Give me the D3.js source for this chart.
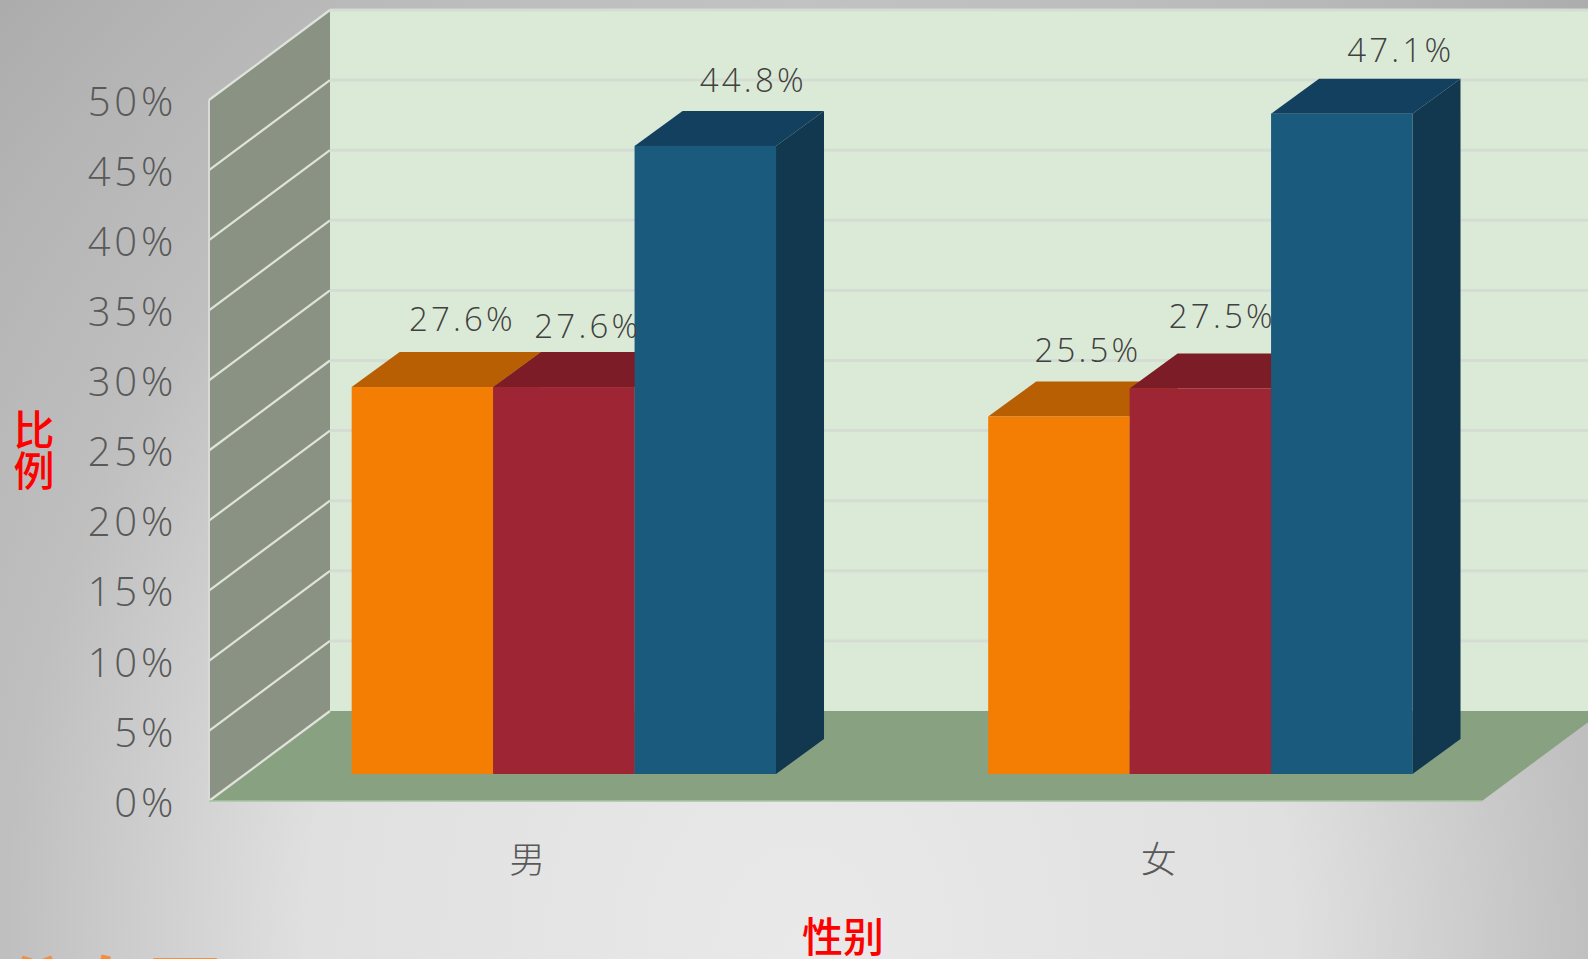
<!DOCTYPE html>
<html>
<head>
    <meta charset="utf-8">
    <title></title>
    <style>
        html, body { margin: 0; padding: 0; background: #ddd; overflow: hidden; }
        svg { display: block; }
        .tick-label { font-family: "Open Sans", sans-serif; font-weight: 300; font-size: 40px; fill: #595959; letter-spacing: 3.8px; }
        .cat-label { font-family: "Noto Sans CJK SC", sans-serif; font-weight: 300; font-size: 36px; fill: #595959; }
        .val-label { font-family: "Open Sans", sans-serif; font-weight: 300; font-size: 33px; fill: #404040; letter-spacing: 3.2px; }
        .axis-title { font-family: "Noto Sans CJK SC", sans-serif; font-weight: 500; font-size: 41px; fill: #ff0000; }
    </style>
</head>
<body>
    <script src="https://cdn.jsdelivr.net/npm/d3@7"></script>
    <script>
        // values
        var categories = ["男", "女"];
        var seriesKeys = ["s1", "s2", "s3"];
        var maleValues = [27.6, 27.6, 44.8];
        var femaleValues = [25.5, 27.5, 47.1];
        var yTicks = [0, 5, 10, 15, 20, 25, 30, 35, 40, 45, 50];

        var xTitle = "性别";
        var yTitle = ["比", "例"];
        var caption = "分布图";

        var frontColors = ["#f47e03", "#9e2534", "#1a5a7c"];
        var topColors = ["#b75f02", "#7b1c27", "#144060"];
        var sideColors = ["#a85702", "#701a24", "#11384f"];

        // hand placed label offsets from the bar's front top centre
        var labelNudge = [[[40, -69], [24, -62], [48, -66]], [[29, -67], [22, -73], [59, -64]]];

        var width = 1588,
            height = 959;

        // oblique projection of the box
        var depthX = 121, depthY = -90;
        var barOffX = 36.6, barOffY = -27;
        var barDepthX = 48, barDepthY = -35;

        var x0 = d3.scaleBand().domain(categories).range([209, 1482]);
        var x1 = d3.scaleBand().domain(seriesKeys).range([0, x0.bandwidth()]).paddingInner(0).paddingOuter(0.75);
        var y = d3.scaleLinear().domain([0, 50]).range([801, 100]);

        var svg = d3.select("body").append("svg")
            .attr("width", width)
            .attr("height", height);

        var grad = svg.append("defs").append("radialGradient")
            .attr("id", "bg")
            .attr("gradientUnits", "userSpaceOnUse")
            .attr("cx", 0).attr("cy", 0).attr("r", 1.3)
            .attr("gradientTransform", "translate(800,950) scale(900,1100)");
        [[0, "#e9e9e9"], [0.42, "#e0e0e0"], [0.68, "#bfbfbf"], [0.85, "#b4b4b4"], [1, "#a8a8a8"]].forEach(function(s) {
            grad.append("stop").attr("offset", s[0]).attr("stop-color", s[1]);
        });

        svg.append("rect").attr("width", width).attr("height", height).attr("fill", "url(#bg)");

        function pts(list) {
            return list.map(function(p) { return p.join(","); }).join(" ");
        }

        var left = x0.range()[0], right = x0.range()[1];
        var y0 = y(0), yMax = y(50);

        // back wall
        svg.append("polygon")
            .attr("points", pts([[left + depthX, yMax + depthY], [width, yMax + depthY], [width, y0 + depthY], [left + depthX, y0 + depthY]]))
            .attr("fill", "#dbead6");
        svg.append("g").selectAll("line")
            .data(yTicks.slice(1))
            .enter().append("line")
            .attr("x1", left + depthX)
            .attr("x2", width)
            .attr("y1", function(d) { return y(d) + depthY; })
            .attr("y2", function(d) { return y(d) + depthY; })
            .attr("stroke", "#d4dcd3")
            .attr("stroke-width", 3);

        // side wall
        svg.append("polygon")
            .attr("points", pts([[left, yMax], [left + depthX, yMax + depthY], [left + depthX, y0 + depthY], [left, y0]]))
            .attr("fill", "#8a9383");

        // floor
        svg.append("polygon")
            .attr("points", pts([[left, y0], [left + depthX, y0 + depthY], [right + depthX, y0 + depthY], [right, y0]]))
            .attr("fill", "#88a281");

        svg.append("g").selectAll("line")
            .data(yTicks)
            .enter().append("line")
            .attr("x1", left)
            .attr("x2", left + depthX)
            .attr("y1", function(d) { return y(d); })
            .attr("y2", function(d) { return y(d) + depthY; })
            .attr("stroke", "#dfe3da")
            .attr("stroke-width", 2.2);
        svg.append("line")
            .attr("x1", left).attr("x2", left)
            .attr("y1", yMax).attr("y2", y0)
            .attr("stroke", "#d9d9d9")
            .attr("stroke-width", 2);
        svg.append("line")
            .attr("x1", left).attr("x2", right)
            .attr("y1", y0).attr("y2", y0)
            .attr("stroke", "#a9c4a4")
            .attr("stroke-width", 1.5);

        // bars
        var rows = [maleValues, femaleValues];
        var bars = [];
        categories.forEach(function(c, i) {
            seriesKeys.forEach(function(k, j) {
                bars.push({ cat: c, key: k, value: rows[i][j], s: j, nudge: labelNudge[i][j] });
            });
        });

        var bar = svg.append("g").selectAll("g")
            .data(bars)
            .enter().append("g");

        function bx(d) { return x0(d.cat) + x1(d.key) + barOffX; }
        function bw() { return x1.bandwidth(); }
        function by(d) { return y(d.value) + barOffY; }
        var base = y(0) + barOffY;

        bar.append("polygon")
            .attr("fill", function(d) { return topColors[d.s]; })
            .attr("points", function(d) {
                return pts([[bx(d), by(d)], [bx(d) + barDepthX, by(d) + barDepthY], [bx(d) + bw() + barDepthX, by(d) + barDepthY], [bx(d) + bw(), by(d)]]);
            });
        bar.append("polygon")
            .attr("fill", function(d) { return sideColors[d.s]; })
            .attr("points", function(d) {
                return pts([[bx(d) + bw(), by(d)], [bx(d) + bw() + barDepthX, by(d) + barDepthY], [bx(d) + bw() + barDepthX, base + barDepthY], [bx(d) + bw(), base]]);
            });
        bar.append("rect")
            .attr("fill", function(d) { return frontColors[d.s]; })
            .attr("x", bx)
            .attr("y", by)
            .attr("width", bw())
            .attr("height", function(d) { return base - by(d); });

        // value labels sit above everything
        svg.append("g").selectAll("text")
            .data(bars)
            .enter().append("text")
            .attr("class", "val-label")
            .attr("text-anchor", "middle")
            .attr("dominant-baseline", "central")
            .attr("x", function(d) { return bx(d) + bw() / 2 + d.nudge[0]; })
            .attr("y", function(d) { return by(d) + d.nudge[1]; })
            .text(function(d) { return d.value.toFixed(1) + "%"; });

        // axes
        var yAxis = d3.axisLeft(y)
            .tickValues(yTicks)
            .tickSize(0)
            .tickPadding(32)
            .tickFormat(function(d) { return d + "%"; });
        var yG = svg.append("g").attr("transform", "translate(" + left + ",0)").call(yAxis);
        yG.select(".domain").remove();
        yG.selectAll("text").attr("class", "tick-label").attr("font-size", null).attr("font-family", null).attr("fill", null).attr("dy", "0.38em");

        var xAxis = d3.axisBottom(x0).tickSize(0).tickPadding(46);
        var xG = svg.append("g").attr("transform", "translate(0," + y0 + ")").call(xAxis);
        xG.select(".domain").remove();
        xG.selectAll("text").attr("class", "cat-label").attr("font-size", null).attr("font-family", null).attr("fill", null);
        // the second label sits a little left of its band in the original
        xG.selectAll("text").filter(function(d) { return d === "女"; }).attr("dx", -5);

        // titles
        svg.append("text")
            .attr("class", "axis-title")
            .attr("text-anchor", "middle")
            .attr("x", 843)
            .attr("y", 952)
            .text(xTitle);
        svg.append("g").selectAll("text")
            .data(yTitle)
            .enter().append("text")
            .attr("class", "axis-title")
            .attr("text-anchor", "middle")
            .attr("x", 34)
            .attr("y", function(d, i) { return 445 + i * 41; })
            .text(function(d) { return d; });

        // next slide's heading, cut off by the bottom edge
        svg.append("text")
            .attr("x", 0)
            .attr("y", 1018)
            .attr("font-family", "Noto Sans CJK SC")
            .attr("font-weight", 700)
            .attr("font-size", 74)
            .attr("fill", "#f98b3a")
            .text(caption);
    </script>
</body>
</html>
